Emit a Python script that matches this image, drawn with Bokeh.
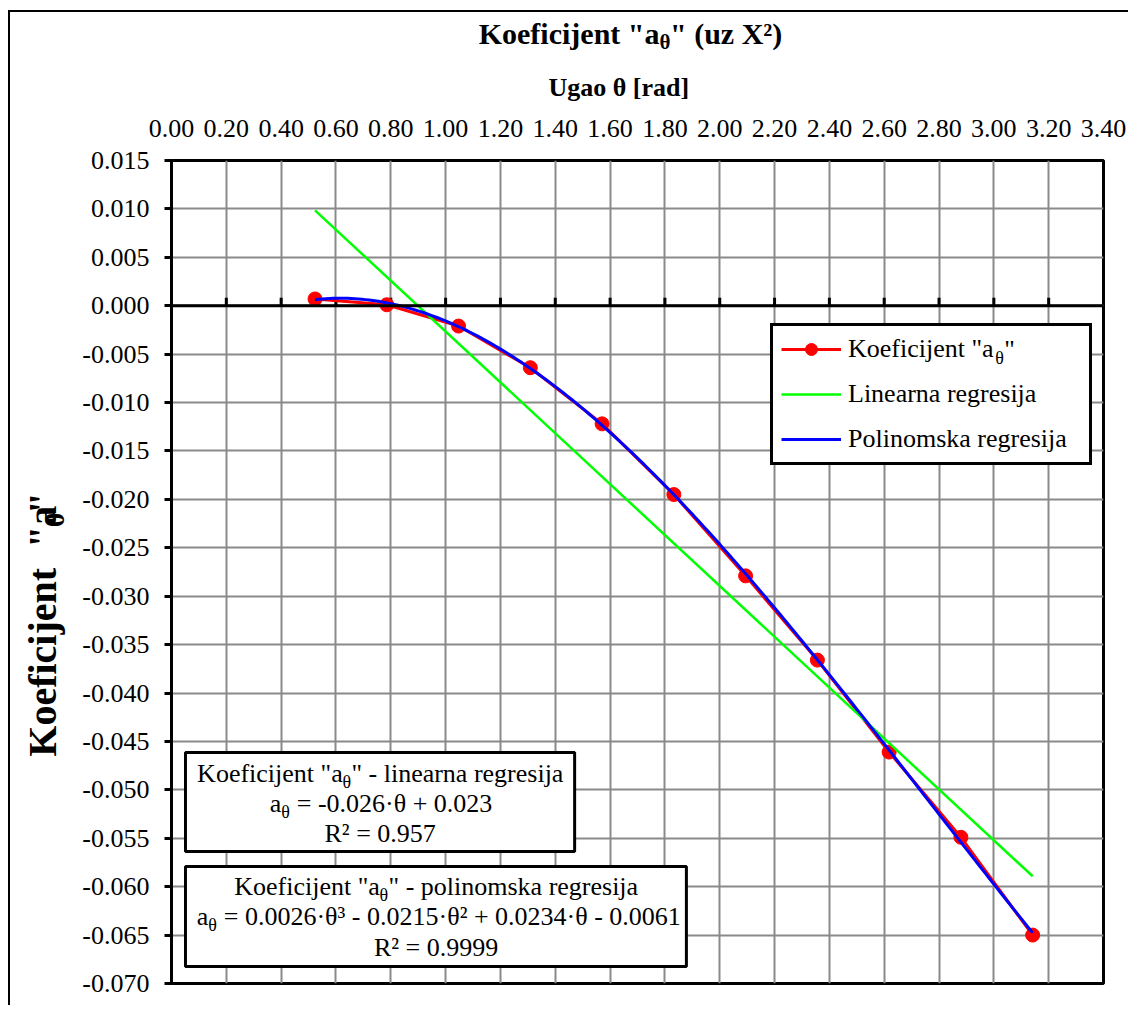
import numpy as np
from bokeh.plotting import figure
from bokeh.layouts import column, row
from bokeh.models import (FixedTicker, PrintfTickFormatter, Span, BoxAnnotation, Label,
                          Legend, LegendItem, Range1d)
from bokeh.embed import file_html
from bokeh.resources import INLINE

# ---------------- data ----------------
theta = [0.5236, 0.7854, 1.0472, 1.3090, 1.5708, 1.8326, 2.0944, 2.3562, 2.6180, 2.8798, 3.1416]
a_theta = [0.0007, 0.0001, -0.0021, -0.0064, -0.0122, -0.0195, -0.0279, -0.0366, -0.0461, -0.0549, -0.0650]
x_ticks = [0.00, 0.20, 0.40, 0.60, 0.80, 1.00, 1.20, 1.40, 1.60, 1.80, 2.00, 2.20, 2.40, 2.60,
           2.80, 3.00, 3.20, 3.40]
y_ticks = [-0.070, -0.065, -0.060, -0.055, -0.050, -0.045, -0.040, -0.035, -0.030, -0.025,
           -0.020, -0.015, -0.010, -0.005, 0.000, 0.005, 0.010, 0.015]
legend_labels = ['Koeficijent "a', "Linearna regresija", "Polinomska regresija"]

# trendlines (least squares, as the spreadsheet does)
lin_coef = np.polyfit(theta, a_theta, 1)
poly_coef = np.polyfit(theta, a_theta, 3)

NB = "\u00a0"  # non-breaking space, kept by SVG text

# ---------------- layout constants (page pixels) ----------------
OX, OY = 10, 12                     # content origin (after margin + border)
TITLE_H = 93
YLAB_W = 69
MAIN_W, MAIN_H = 1049, 900
FX0, FX1 = 169.0, 1103.0            # frame left/right on the page
FY0, FY1 = 160.0, 983.0             # frame top/bottom on the page
XMIN, XMAX = 0.0, 3.4
YMIN, YMAX = -0.070, 0.015
BASE_FIX = 0.34                     # svg baseline correction (fraction of font size)


def dx(px):
    return XMIN + (px - FX0) / (FX1 - FX0) * (XMAX - XMIN)


def dy(py):
    return YMAX - (py - FY0) / (FY1 - FY0) * (YMAX - YMIN)


def ident(px):
    return px


def neg(py):
    return -py


FONT = "Liberation Serif"
W_REG = {' ': 250, NB: 250, '"': 408, '+': 564, '-': 333, '.': 250, '=': 564, 'K': 722,
         'R': 667, 'a': 444, 'c': 444, 'e': 444, 'f': 333, 'g': 500, 'i': 278, 'j': 278,
         'k': 500, 'l': 278, 'm': 778, 'n': 500, 'o': 500, 'p': 500, 'r': 333, 's': 389,
         't': 278, '·': 250, '²': 300, '³': 300, 'θ': 500}
W_BOLD = {' ': 250, NB: 250, '"': 555, '(': 333, ')': 333, '[': 333, ']': 333, 'K': 778,
          'U': 722, 'X': 722, 'a': 500, 'c': 444, 'd': 556, 'e': 444, 'f': 333, 'g': 500,
          'i': 278, 'j': 333, 'n': 556, 'o': 500, 'r': 444, 't': 333, 'u': 556, 'z': 444,
          '²': 300, 'θ': 500}


def text_w(s, size, bold):
    tab = W_BOLD if bold else W_REG
    return sum(tab.get(ch, 500) for ch in s) / 1000.0 * size


SUB = 0.7


def piece_sizes(parts, size):
    out = []
    for t, kind in parts:
        fs = round(size * SUB) if kind == "sub" else size
        sh = size * 0.2 if kind == "sub" else 0.0
        out.append((t.replace(" ", NB), fs, sh))
    return out


def rich_h(fig, cx, cy, parts, x_px, base_px, size, bold=False, center=False):
    ps = piece_sizes(parts, size)
    total = sum(text_w(t, fs, bold) for t, fs, sh in ps)
    x = x_px - total / 2 if center else x_px
    for t, fs, sh in ps:
        fig.add_layout(Label(x=cx(x), y=cy(base_px + sh - BASE_FIX * fs), text=t,
                             text_font=FONT, text_font_size=f"{fs}px",
                             text_font_style="bold" if bold else "normal",
                             text_align="left", text_baseline="alphabetic",
                             text_color="black"))
        x += text_w(t, fs, bold)


def rich_v(fig, cx, cy, parts, base_x_px, y_start_px, size, bold=True):
    ps = piece_sizes(parts, size)
    y = y_start_px
    for t, fs, sh in ps:
        fig.add_layout(Label(x=cx(base_x_px + sh - BASE_FIX * fs), y=cy(y), text=t,
                             text_font=FONT, text_font_size=f"{fs}px", angle=np.pi / 2,
                             text_font_style="bold" if bold else "normal",
                             text_align="left", text_baseline="alphabetic",
                             text_color="black"))
        y -= text_w(t, fs, bold)


def blank_fig(w, h, x0, y0):
    f = figure(width=w, height=h, x_range=Range1d(x0, x0 + w), y_range=Range1d(-(y0 + h), -y0),
               output_backend="svg", toolbar_location=None, x_axis_type=None, y_axis_type=None,
               min_border=0, min_border_left=0, min_border_right=0, min_border_top=0,
               min_border_bottom=0, background_fill_color="white", border_fill_color="white")
    f.outline_line_color = None
    return f


# ---------------- main figure ----------------
main_x0 = OX + YLAB_W
main_y0 = OY + TITLE_H
p = figure(width=MAIN_W, height=MAIN_H, x_range=Range1d(XMIN, XMAX), y_range=Range1d(YMIN, YMAX),
           output_backend="svg", toolbar_location=None, x_axis_location="above",
           min_border_left=int(FX0 - main_x0), min_border_top=int(FY0 - main_y0),
           min_border_right=int(main_x0 + MAIN_W - FX1),
           min_border_bottom=int(main_y0 + MAIN_H - FY1),
           background_fill_color="white", border_fill_color="white")
p.outline_line_color = "black"
p.outline_line_width = 3

xa = p.xaxis[0]
xa.ticker = FixedTicker(ticks=x_ticks)
xa.formatter = PrintfTickFormatter(format="%.2f")
xa.axis_line_color = None
xa.major_tick_line_color = None
xa.minor_tick_line_color = None
xa.major_tick_out = 0
xa.major_tick_in = 0
xa.major_label_standoff = 24
xa.major_label_text_font = FONT
xa.major_label_text_font_size = "26px"
xa.major_label_text_color = "black"

ya = p.yaxis[0]
ya.ticker = FixedTicker(ticks=y_ticks)
ya.formatter = PrintfTickFormatter(format="%.3f")
ya.axis_line_color = "black"
ya.axis_line_width = 3
ya.major_tick_line_color = "black"
ya.major_tick_line_width = 3
ya.major_tick_out = 7
ya.major_tick_in = 0
ya.minor_tick_line_color = None
ya.major_label_standoff = 15
ya.major_label_text_font = FONT
ya.major_label_text_font_size = "26px"
ya.major_label_text_color = "black"

p.xgrid.ticker = FixedTicker(ticks=x_ticks)
p.ygrid.ticker = FixedTicker(ticks=y_ticks)
for g in (p.xgrid, p.ygrid):
    g.grid_line_color = "#8a8a8a"
    g.grid_line_width = 2

# horizontal axis line at y = 0 with its tick marks
p.add_layout(Span(location=0, dimension="width", line_color="black", line_width=3))
inner_ticks = x_ticks[1:-1]
p.ray(x=inner_ticks, y=[0.0] * len(inner_ticks), length=8, length_units="screen",
      angle=np.pi / 2, line_color="black", line_width=3)

# ---------------- series ----------------
r_line = p.line(theta, a_theta, line_color="red", line_width=3)
r_pts = p.scatter(theta, a_theta, size=14, fill_color="red", line_color="red")

lin_x = np.array([theta[0], theta[-1]])
g_line = p.line(lin_x, np.polyval(lin_coef, lin_x), line_color="#00ff00", line_width=2.5)

poly_x = np.linspace(theta[0], theta[-1], 200)
b_line = p.line(poly_x, np.polyval(poly_coef, poly_x), line_color="#0000ff", line_width=3)

# ---------------- legend ----------------
# white panel under a transparent legend, so the subscript text can show through
p.add_layout(BoxAnnotation(left=dx(770), right=dx(1089), top=dy(324), bottom=dy(464),
                           fill_color="white", fill_alpha=1.0, line_color=None))
leg_text_x = 849 + text_w(legend_labels[0], 26, False)
rich_h(p, dx, dy, [("θ", "sub"), ('"', "n")], leg_text_x, 358, 26)

legend = Legend(items=[LegendItem(label=legend_labels[0], renderers=[r_line, r_pts]),
                       LegendItem(label=legend_labels[1], renderers=[g_line]),
                       LegendItem(label=legend_labels[2], renderers=[b_line])],
                location=(599, 518), glyph_width=60, glyph_height=30, label_height=30,
                label_width=233, label_standoff=7, padding=8, spacing=15, margin=0,
                border_line_color="black", border_line_width=3, border_line_alpha=1.0,
                background_fill_color="white", background_fill_alpha=0.0,
                label_text_font=FONT, label_text_font_size="26px", label_text_color="black")
p.add_layout(legend)

# ---------------- text boxes ----------------
for (l, r, t, b) in [(183, 573, 752, 851), (183, 685, 866, 966)]:
    p.add_layout(BoxAnnotation(left=dx(l), right=dx(r), top=dy(t), bottom=dy(b),
                               fill_color="white", fill_alpha=1.0, line_color="black",
                               line_alpha=1.0, line_width=3))

rich_h(p, dx, dy, [('Koeficijent "a', "n"), ("θ", "sub"), ('" - linearna regresija', "n")], 378, 782, 26, center=True)
rich_h(p, dx, dy, [("a", "n"), ("θ", "sub"), (" = -0.026·θ + 0.023", "n")], 378, 812, 26, center=True)
rich_h(p, dx, dy, [("R² = 0.957", "n")], 378, 842, 26, center=True)

rich_h(p, dx, dy, [('Koeficijent "a', "n"), ("θ", "sub"), ('" - polinomska regresija', "n")], 434, 895, 26, center=True)
rich_h(p, dx, dy, [("a", "n"), ("θ", "sub"), (" = 0.0026·θ³ - 0.0215·θ² + 0.0234·θ - 0.0061", "n")], 434, 925, 26, center=True)
rich_h(p, dx, dy, [("R² = 0.9999", "n")], 434, 956, 26, center=True)

# ---------------- titles ----------------
title_fig = blank_fig(YLAB_W + MAIN_W, TITLE_H, OX, OY)
rich_h(title_fig, ident, neg, [('Koeficijent "a', "n"), ("θ", "sub"), ('" (uz X²)', "n")], 630, 43, 30, bold=True, center=True)
rich_h(title_fig, ident, neg, [("Ugao θ [rad]", "n")], 618, 96, 26, bold=True, center=True)

ylab_fig = blank_fig(YLAB_W, MAIN_H, OX, main_y0)
rich_v(ylab_fig, ident, neg, [('Koeficijent  "a', "n"), ("θ", "sub"), ('"', "n")], 56, 757, 40, bold=True)

layout = column(title_fig, row(ylab_fig, p, spacing=0), spacing=0,
                styles={"margin-left": "8px", "margin-top": "10px",
                        "border-left": "2px solid black", "border-top": "2px solid black"})

open("out.html", "w").write(file_html(layout, INLINE))
